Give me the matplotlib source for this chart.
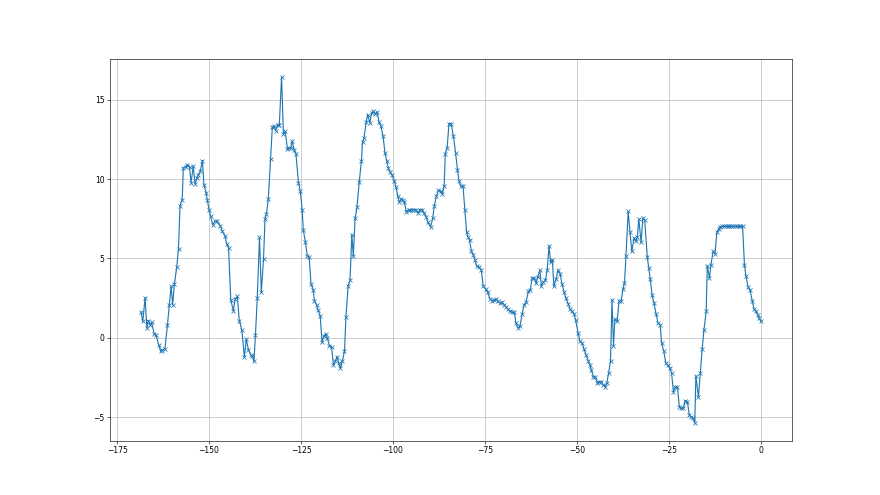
import matplotlib
matplotlib.use("Agg")
import matplotlib.pyplot as plt

x_values = [
    -168.5, -168.0, -167.4, -166.9, -166.5, -166.0, -165.6, -164.9, -164.4, -163.7,
    -163.1, -162.7, -162.0, -161.3, -160.8, -160.3, -159.9, -159.4, -158.8, -158.3,
    -157.9, -157.3, -157.0, -156.4, -155.9, -155.3, -154.9, -154.3, -153.8, -153.3,
    -152.9, -152.4, -151.8, -151.4, -150.8, -150.5, -150.0, -149.6, -149.0, -148.4,
    -147.8, -147.0, -146.4, -145.7, -145.2, -144.7, -144.1, -143.4, -142.9, -142.3,
    -141.8, -141.1,
    -140.4, -139.9, -139.3, -138.7, -138.2, -137.8, -137.4, -136.9, -136.3, -135.8,
    -135.2, -134.8, -134.4, -133.9, -133.3, -132.8, -132.3, -131.9, -131.4, -130.9,
    -130.3, -129.8, -129.3, -128.7, -128.2, -127.8, -127.4, -126.9, -126.4, -125.7,
    -125.2, -124.7, -124.4, -123.8, -123.3, -122.8, -122.3, -121.7, -121.4, -120.8,
    -120.4, -119.8, -119.3, -118.8, -118.3, -117.9, -117.3, -116.7, -116.2, -115.7,
    -115.2, -114.8, -114.3, -113.8, -113.2, -112.8, -112.2, -111.7, -111.2, -110.8,
    -110.3, -109.8, -109.2,
    -108.6, -108.3, -107.9, -107.3, -106.9, -106.3, -105.8, -105.4, -104.8, -104.3,
    -103.8, -103.3, -102.7, -102.2, -101.7, -101.3, -100.8, -100.3, -99.7, -99.2,
    -98.7, -98.3, -97.8, -97.4, -96.9, -96.4, -95.8, -95.4, -94.8, -94.3,
    -93.8, -93.2, -92.7, -92.1, -91.6, -91.0, -90.5, -89.8, -89.2, -88.8,
    -88.2, -87.7, -87.1, -86.6, -86.1, -85.8, -85.3, -84.8, -84.2, -83.6,
    -83.0, -82.5, -82.1, -81.6, -81.0,
    -80.5, -80.0, -79.6, -79.2, -78.7, -78.2, -77.7, -77.2, -76.6, -76.0,
    -75.5, -74.8, -74.3, -73.6, -73.1, -72.6, -72.0, -71.5, -70.9, -70.4,
    -69.8, -69.3, -68.8, -68.2, -67.6, -67.0, -66.6, -66.0, -65.5, -64.9,
    -64.4, -63.9, -63.2, -62.7, -62.2, -61.7, -61.1, -60.7, -60.1, -59.7,
    -59.2, -58.6, -58.1, -57.6, -57.2, -56.7, -56.3, -55.7, -55.2, -54.6,
    -54.1, -53.5, -53.0, -52.4, -51.9, -51.4, -50.8, -50.4,
    -49.7, -49.2, -48.6, -48.1, -47.6, -47.0, -46.5, -46.1, -45.6, -45.0,
    -44.5, -43.9, -43.4, -42.9, -42.3, -41.9, -41.4, -40.9, -40.5, -40.1,
    -39.7, -39.1, -38.6, -38.0, -37.5, -37.1, -36.7, -36.1, -35.6, -35.1,
    -34.5, -34.0, -33.6, -33.2, -32.6, -32.1, -31.6, -30.9, -30.5, -30.1,
    -29.6, -29.1, -28.5, -28.0, -27.4, -27.0, -26.4, -25.9, -25.4, -24.8,
    -24.3, -23.8, -23.3, -22.7, -22.2, -21.7, -21.1, -20.6, -20.0,
    -19.5, -18.9, -18.4, -18.0, -17.7, -17.0, -16.5, -16.0, -15.5, -14.9,
    -14.6, -14.0, -13.6, -13.0, -12.5, -12.0, -11.5, -11.1, -10.6, -10.1,
    -9.6, -9.1, -8.6, -8.1, -7.6, -7.1, -6.6, -6.1, -5.6, -5.0,
    -4.5, -4.1, -3.5, -3.0, -2.4, -1.9, -1.4, -0.9, -0.5, 0.0,
]

y_values = [
    1.62, 1.03, 2.54, 0.61, 1.09, 0.82, 0.97, 0.23, 0.17, -0.44,
    -0.86, -0.76, -0.69, 0.82, 2.08, 3.24, 2.08, 3.41, 4.44, 5.62,
    8.33, 8.71, 10.71, 10.77, 10.91, 10.77, 9.76, 10.81, 9.72, 10.08,
    10.28, 10.49, 11.17, 9.65, 9.13, 8.71, 8.08, 7.65, 7.13, 7.34,
    7.34, 7.07, 6.71, 6.44, 5.91, 5.66, 2.40, 1.70, 2.46, 2.61,
    1.09, 0.50,
    -1.22, -0.08, -0.76, -1.07, -1.14, -1.49, 0.17, 2.50, 6.33, 2.86,
    4.96, 7.49, 7.82, 8.75, 11.29, 13.29, 13.33, 13.06, 13.39, 13.44,
    16.45, 12.87, 13.00, 11.90, 11.94, 11.99, 12.39, 11.86, 11.61, 9.76,
    9.23, 8.08, 6.81, 6.01, 5.13, 5.09, 3.41, 3.03, 2.35, 2.08,
    1.77, 1.39, -0.29, 0.13, 0.25, 0.02, -0.49, -0.59, -1.70, -1.49,
    -1.18, -1.56, -1.91, -1.49, -0.86, 1.34, 3.28, 3.62, 6.50, 5.13,
    7.55, 8.22, 9.80,
    11.12, 12.32, 12.60, 13.58, 14.07, 13.55, 14.18, 14.26, 14.13, 14.21,
    13.58, 13.33, 12.70, 11.65, 11.12, 10.71, 10.43, 10.28, 9.91, 9.51,
    8.92, 8.54, 8.75, 8.71, 8.54, 7.93, 8.08, 8.08, 8.08, 8.08,
    8.08, 7.87, 8.08, 8.08, 7.87, 7.61, 7.27, 6.98, 7.55, 8.33,
    8.92, 9.29, 9.23, 9.09, 9.59, 11.61, 11.97, 13.50, 13.50, 12.70,
    11.65, 10.60, 9.91, 9.55, 9.59,
    8.08, 6.65, 6.35, 6.14, 5.44, 5.24, 4.88, 4.50, 4.46, 4.25,
    3.24, 3.07, 2.86, 2.44, 2.33, 2.40, 2.44, 2.29, 2.19, 2.23,
    2.08, 1.94, 1.81, 1.66, 1.62, 1.60, 0.93, 0.61, 0.76, 1.51,
    2.08, 2.23, 2.92, 3.03, 3.77, 3.77, 3.45, 3.83, 4.25, 3.28,
    3.49, 3.62, 4.29, 5.80, 4.75, 4.92, 3.24, 3.70, 4.25, 4.04,
    3.41, 2.86, 2.50, 2.15, 1.81, 1.66, 1.51, 1.14,
    0.30, -0.23, -0.34, -0.71, -1.07, -1.43, -1.70, -2.02, -2.44, -2.48,
    -2.82, -2.76, -2.76, -2.97, -3.07, -2.86, -2.19, -1.49, 2.40, -0.50,
    1.18, 1.03, 2.29, 2.35, 3.07, 3.45, 5.13, 7.97, 6.65, 5.44,
    6.29, 6.08, 6.35, 7.49, 6.01, 7.55, 7.40, 5.09, 4.40, 3.70,
    2.71, 2.19, 1.51, 0.93, 0.82, -0.34, -0.86, -1.56, -1.70, -1.91,
    -2.23, -3.39, -3.11, -3.11, -4.33, -4.44, -4.44, -3.96, -4.02,
    -4.86, -5.00, -5.07, -5.38, -2.40, -3.74, -2.19, -0.71, 0.50, 1.66,
    4.54, 3.77, 4.61, 5.44, 5.30, 6.65, 6.86, 7.00, 7.02, 7.02,
    7.02, 7.02, 7.02, 7.02, 7.02, 7.02, 7.02, 7.02, 7.02, 7.02,
    4.61, 3.91, 3.20, 3.03, 2.35, 1.81, 1.66, 1.45, 1.24, 1.03,
]

fig = plt.figure(figsize=(16, 9), dpi=55)
ax = fig.add_subplot(111)
ax.plot(x_values, y_values, marker="x", color="#1f77b4")
ax.grid(True)
fig.savefig("out.png", dpi=55)
